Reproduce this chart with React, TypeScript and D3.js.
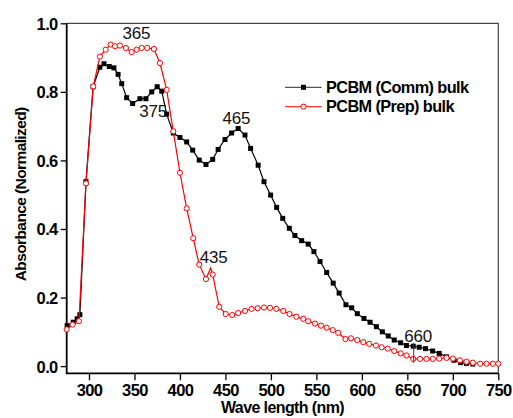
import React, { useRef, useEffect } from 'react';
import * as d3 from 'd3';

// PCBM (Comm) bulk
const commWave = [276, 282.7, 287, 290, 296.7, 304.5, 312, 316.5, 322.3, 327.4, 332, 336, 341.4, 348, 356, 362.6, 369, 375, 380, 385.4, 392.7, 400, 407.4, 414, 421.2, 428.6, 436, 442, 449.5, 456.8, 464, 471.5, 477.7, 486, 492.4, 499.7, 506.3, 513, 520.2, 526.4, 533.8, 541, 547.3, 554, 561.3, 568.5, 575, 582.5, 588.8, 595, 602.3, 609, 616, 622.5, 629, 635.6, 642.6, 649, 656.5, 663, 670, 677.8, 685, 693, 701.3, 708.6, 715, 722];
const commAbs = [0.118, 0.128, 0.138, 0.150, 0.538, 0.815, 0.872, 0.882, 0.874, 0.870, 0.851, 0.824, 0.783, 0.766, 0.780, 0.780, 0.800, 0.815, 0.802, 0.735, 0.680, 0.667, 0.654, 0.630, 0.601, 0.588, 0.603, 0.632, 0.661, 0.680, 0.693, 0.674, 0.635, 0.586, 0.538, 0.499, 0.463, 0.431, 0.402, 0.381, 0.366, 0.356, 0.334, 0.305, 0.273, 0.242, 0.213, 0.179, 0.170, 0.153, 0.139, 0.128, 0.115, 0.100, 0.088, 0.076, 0.068, 0.060, 0.058, 0.055, 0.051, 0.044, 0.037, 0.027, 0.017, 0.010, 0.008, 0.006];

// PCBM (Prep) bulk
const prepWave = [275.5, 282, 289, 296.7, 304.7, 312, 318.3, 323.8, 328.6, 334, 340.6, 346.9, 352.4, 357.9, 364, 371.4, 378, 385.4, 392.7, 400, 407.4, 414.6, 421.2, 428.6, 433.8, 436, 443.2, 450.3, 457.5, 464, 471.5, 478.8, 485.4, 492.4, 499, 506, 513.6, 520.5, 528, 535.6, 541, 548.4, 555, 561.3, 568, 574, 582, 588, 595, 601.5, 608, 615.5, 621.7, 628.4, 635.6, 642.6, 649, 656.5, 664, 671, 678, 685, 693, 700, 707.8, 715, 722, 730, 737, 744, 750];
const prepAbs = [0.107, 0.121, 0.131, 0.533, 0.816, 0.903, 0.923, 0.938, 0.933, 0.935, 0.928, 0.916, 0.923, 0.928, 0.928, 0.925, 0.884, 0.806, 0.685, 0.564, 0.460, 0.373, 0.296, 0.254, 0.286, 0.267, 0.173, 0.152, 0.149, 0.155, 0.161, 0.167, 0.169, 0.171, 0.170, 0.167, 0.161, 0.152, 0.144, 0.138, 0.131, 0.124, 0.118, 0.112, 0.105, 0.097, 0.079, 0.081, 0.076, 0.070, 0.065, 0.060, 0.055, 0.051, 0.044, 0.037, 0.031, 0.021, 0.021, 0.021, 0.021, 0.022, 0.024, 0.022, 0.017, 0.013, 0.010, 0.007, 0.007, 0.007, 0.007];

const xTicks = [300, 350, 400, 450, 500, 550, 600, 650, 700, 750];
const xMinor = [275, 325, 375, 425, 475, 525, 575, 625, 675, 725];
const yTicks = [0.0, 0.2, 0.4, 0.6, 0.8, 1.0];
const yMinor = [0.1, 0.3, 0.5, 0.7, 0.9];

const peakLabels = [
  { text: '365', wave: 352, abs: 0.955 },
  { text: '375', wave: 370.5, abs: 0.727 },
  { text: '465', wave: 462, abs: 0.705 },
  { text: '435', wave: 437, abs: 0.302 },
  { text: '660', wave: 662, abs: 0.07 },
];

const FONT = '"Liberation Sans", Arial, sans-serif';

const App = () => {
  const svgRef = useRef<SVGSVGElement>(null);

  useEffect(() => {
    const width = 513;
    const height = 418;
    const left = 66.7, right = 498.3, top = 23.3, bottom = 373.3;

    const svg = d3.select(svgRef.current);
    svg.selectAll('*').remove();
    svg.attr('width', width).attr('height', height);

    const x = d3.scaleLinear().domain([275.5, 750]).range([left, right]);
    const y = d3.scaleLinear().domain([-0.021, 1.0]).range([bottom, top]);

    // frame (top + right)
    svg.append('path')
      .attr('d', `M${left},${top}H${right}V${bottom}`)
      .attr('fill', 'none')
      .attr('stroke', '#444')
      .attr('stroke-width', 1.2);

    // x axis
    const gx = svg.append('g').attr('transform', `translate(0,${bottom})`);
    gx.call(d3.axisBottom(x).tickValues(xMinor).tickSize(4).tickFormat(() => ''));
    gx.call(d3.axisBottom(x).tickValues(xTicks).tickSize(7).tickFormat(d3.format('d')));
    gx.select('.domain').remove();
    gx.selectAll('line').attr('stroke', '#000').attr('stroke-width', 1.3);
    gx.selectAll('text')
      .attr('font-family', FONT).attr('font-size', 16.5).attr('font-weight', 'bold')
      .attr('fill', '#000').attr('y', 11).attr('letter-spacing', -0.6);

    // y axis
    const gy = svg.append('g').attr('transform', `translate(${left},0)`);
    gy.call(d3.axisLeft(y).tickValues(yMinor).tickSize(3).tickFormat(() => ''));
    gy.call(d3.axisLeft(y).tickValues(yTicks).tickSize(6).tickFormat(d3.format('.1f')));
    gy.select('.domain').remove();
    gy.selectAll('line').attr('stroke', '#000').attr('stroke-width', 1.3);
    gy.selectAll('text')
      .attr('font-family', FONT).attr('font-size', 16.5).attr('font-weight', 'bold')
      .attr('fill', '#000').attr('x', -9).attr('dy', '0.36em').attr('letter-spacing', -0.6);

    svg.append('path')
      .attr('d', `M${left},${top}V${bottom}H${right}`)
      .attr('fill', 'none')
      .attr('stroke', '#000')
      .attr('stroke-width', 1.8);

    const line = d3.line<[number, number]>()
      .x(d => x(d[0]))
      .y(d => y(d[1]));

    const commData: [number, number][] = commWave.map((w, i) => [w, commAbs[i]]);
    const prepData: [number, number][] = prepWave.map((w, i) => [w, prepAbs[i]]);

    // comm (black)
    svg.append('path')
      .datum(commData)
      .attr('d', line)
      .attr('fill', 'none')
      .attr('stroke', '#000')
      .attr('stroke-width', 1.2);
    svg.selectAll('.comm-pt')
      .data(commData)
      .enter()
      .append('rect')
      .attr('class', 'comm-pt')
      .attr('x', d => x(d[0]) - 2.5)
      .attr('y', d => y(d[1]) - 2.5)
      .attr('width', 5)
      .attr('height', 5)
      .attr('fill', '#000');

    // prep (red)
    svg.append('path')
      .datum(prepData)
      .attr('d', line)
      .attr('fill', 'none')
      .attr('stroke', '#f00')
      .attr('stroke-width', 1.2);
    svg.selectAll('.prep-pt')
      .data(prepData.filter(d => d[0] !== 433.8))
      .enter()
      .append('circle')
      .attr('class', 'prep-pt')
      .attr('cx', d => x(d[0]))
      .attr('cy', d => y(d[1]))
      .attr('r', 2.6)
      .attr('fill', '#fff')
      .attr('stroke', '#f00')
      .attr('stroke-width', 1);

    // marker line at 660
    svg.append('line')
      .attr('x1', x(657)).attr('x2', x(657))
      .attr('y1', y(0.067)).attr('y2', y(0.01))
      .attr('stroke', '#333').attr('stroke-width', 1);

    // peak labels
    svg.selectAll('.peak')
      .data(peakLabels)
      .enter()
      .append('text')
      .attr('x', d => x(d.wave))
      .attr('y', d => y(d.abs))
      .attr('text-anchor', 'middle')
      .attr('font-family', FONT)
      .attr('font-size', 17)
      .attr('letter-spacing', -0.2)
      .attr('fill', '#111')
      .text(d => d.text);

    // legend
    const legendItems = [
      { name: 'PCBM (Comm) bulk', color: '#000', mark: 'square' },
      { name: 'PCBM (Prep) bulk', color: '#f00', mark: 'circle' },
    ];
    const legend = svg.selectAll('.legend')
      .data(legendItems)
      .enter()
      .append('g')
      .attr('transform', (d, i) => `translate(285,${87.3 + i * 19.4})`);
    legend.append('line')
      .attr('x1', 0).attr('x2', 36.7)
      .attr('stroke', d => d.color === '#000' ? '#555' : '#f33')
      .attr('stroke-width', 1.2);
    legend.filter(d => d.mark === 'square').append('rect')
      .attr('x', 16).attr('y', -2.5).attr('width', 5).attr('height', 5).attr('fill', '#000');
    legend.filter(d => d.mark === 'circle').append('circle')
      .attr('cx', 18.5).attr('r', 2.6).attr('fill', '#fff').attr('stroke', '#f00');
    legend.append('text')
      .attr('x', 41)
      .attr('y', 5.5)
      .attr('font-family', FONT)
      .attr('font-size', 16.3)
      .attr('font-weight', 'bold')
      .attr('letter-spacing', -0.6)
      .attr('fill', '#000')
      .text(d => d.name);

    // axis titles
    svg.append('text')
      .attr('x', (left + right) / 2)
      .attr('y', 413)
      .attr('text-anchor', 'middle')
      .attr('font-family', FONT)
      .attr('font-size', 16)
      .attr('font-weight', 'bold')
      .attr('letter-spacing', -0.6)
      .text('Wave length (nm)');

    svg.append('text')
      .attr('transform', `translate(25.5,${(top + bottom) / 2 - 4}) rotate(-90)`)
      .attr('text-anchor', 'middle')
      .attr('font-family', FONT)
      .attr('font-size', 15.5)
      .attr('font-weight', 'bold')
      .attr('letter-spacing', -0.6)
      .text('Absorbance (Normalized)');
  }, []);

  return (
    <div style={{ position: 'absolute', left: 0, top: 0, background: '#fff' }}>
      <svg ref={svgRef}></svg>
    </div>
  );
};

export default App;
